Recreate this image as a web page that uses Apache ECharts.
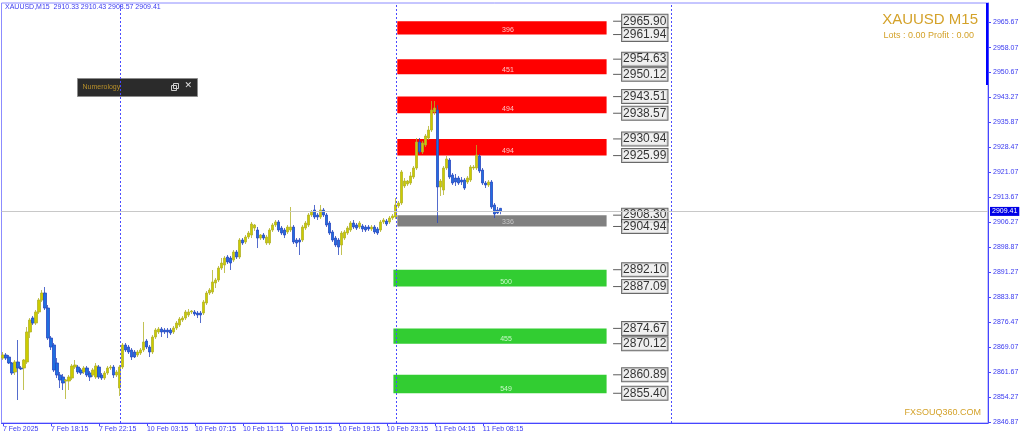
<!DOCTYPE html>
<html><head><meta charset="utf-8">
<script src="https://cdn.jsdelivr.net/npm/echarts@6/dist/echarts.min.js"></script>
<style>html,body{margin:0;padding:0;background:#fff;}#c{width:1024px;height:439px;}</style>
</head><body><div id="c"></div>
<script>
// ---------- data ----------
const symbolName = 'XAUUSD,M15';
const chartTitle = 'XAUUSD M15';
const accountLine = 'Lots : 0.00 Profit : 0.00';
const brandText = 'FXSOUQ360.COM';
const panelTitle = 'Numerology';
const totalSlots = 329; // bars + chart shift space
const xTickLabels = ['7 Feb 2025','7 Feb 18:15','7 Feb 22:15','10 Feb 03:15','10 Feb 07:15','10 Feb 11:15','10 Feb 15:15','10 Feb 19:15','10 Feb 23:15','11 Feb 04:15','11 Feb 08:15'];
const barsPerTick = 16;
const yTickValues = [2965.67,2958.07,2950.67,2943.27,2935.87,2928.47,2921.07,2913.67,2906.27,2898.87,2891.27,2883.87,2876.47,2869.07,2861.67,2854.27,2846.87];
const yMin = 2846.57, yMax = 2971.31;
const daySeparatorBars = [39, 131, 223];
// [open, high, low, close]
const candles = [
[2865.87,2867.66,2865.28,2866.77],[2866.77,2867.36,2865.28,2865.87],[2866.17,2866.77,2864.09,2864.39],[2864.39,2864.69,2860.83,2861.42],
[2861.72,2865.28,2860.83,2864.69],[2864.69,2871.22,2853.40,2862.90],[2862.90,2863.50,2862.31,2862.61],[2862.90,2865.58,2856.37,2865.28],
[2864.69,2875.08,2864.09,2873.60],[2873.60,2877.75,2871.81,2877.16],[2877.75,2878.35,2875.68,2876.27],[2876.27,2880.13,2875.68,2879.54],
[2879.54,2883.69,2878.94,2883.10],[2883.10,2886.07,2882.51,2885.18],[2885.18,2886.96,2880.13,2880.72],[2880.72,2881.62,2871.22,2871.81],
[2871.81,2872.41,2868.25,2869.14],[2869.74,2870.33,2861.72,2862.31],[2864.39,2865.87,2859.93,2860.83],[2860.83,2861.72,2856.96,2859.34],
[2860.23,2861.12,2856.37,2858.45],[2859.04,2859.64,2853.70,2859.34],[2859.04,2860.83,2856.37,2860.23],[2859.93,2864.09,2859.34,2863.50],
[2863.20,2865.28,2862.61,2863.80],[2863.20,2863.80,2861.12,2861.72],[2862.31,2862.90,2860.83,2861.42],[2861.72,2863.50,2861.12,2862.90],
[2862.90,2863.50,2860.23,2860.83],[2861.42,2862.01,2859.04,2860.23],[2860.83,2862.90,2860.23,2862.31],[2860.23,2864.39,2859.64,2863.50],
[2863.20,2863.80,2859.64,2860.23],[2860.83,2861.42,2859.34,2859.93],[2859.93,2862.01,2859.34,2861.42],[2861.42,2863.50,2860.83,2862.90],
[2862.90,2863.80,2862.31,2863.20],[2863.20,2863.80,2859.93,2860.83],[2860.83,2862.31,2860.23,2861.72],[2856.96,2863.80,2854.59,2863.20],
[2863.20,2870.33,2862.61,2869.74],[2869.74,2870.33,2867.66,2868.25],[2869.14,2869.74,2867.06,2867.66],[2868.25,2868.84,2865.28,2866.17],
[2867.66,2868.25,2865.87,2866.17],[2866.77,2868.25,2866.17,2867.66],[2867.36,2868.84,2866.77,2868.25],[2868.25,2876.57,2867.66,2870.63],
[2870.92,2871.52,2868.55,2869.14],[2869.14,2869.74,2866.17,2867.66],[2867.66,2872.71,2867.06,2872.11],[2872.11,2874.78,2871.52,2874.19],
[2873.60,2875.08,2873.00,2874.49],[2874.49,2875.08,2872.11,2873.60],[2874.19,2874.78,2873.00,2873.60],[2874.19,2874.78,2871.81,2873.60],
[2874.19,2874.78,2872.71,2873.30],[2873.60,2875.38,2873.00,2874.78],[2874.78,2876.86,2874.19,2876.27],[2875.68,2878.05,2875.08,2877.46],
[2877.16,2878.35,2876.57,2877.75],[2877.75,2880.13,2877.16,2879.54],[2878.65,2880.43,2878.05,2879.54],[2879.54,2880.13,2878.94,2879.83],
[2879.54,2880.13,2878.35,2878.94],[2879.24,2879.83,2877.75,2878.65],[2879.24,2879.83,2876.27,2878.65],[2879.24,2883.10,2878.65,2882.51],
[2882.21,2885.77,2881.62,2885.18],[2885.18,2886.66,2884.59,2886.07],[2885.48,2892.01,2884.88,2888.45],[2888.15,2889.64,2886.66,2889.04],
[2889.04,2893.20,2888.45,2892.60],[2892.60,2895.57,2892.01,2894.09],[2893.50,2896.17,2891.12,2895.57],[2895.87,2896.47,2893.79,2894.39],
[2895.57,2896.17,2892.01,2894.09],[2894.98,2897.95,2894.39,2897.36],[2897.36,2897.95,2895.28,2895.87],[2895.87,2901.51,2895.28,2900.92],
[2900.92,2901.51,2899.44,2900.03],[2900.33,2902.41,2899.73,2901.81],[2901.81,2903.59,2901.22,2903.00],[2902.41,2906.27,2901.51,2905.67],
[2904.48,2905.67,2903.59,2905.38],[2903.89,2904.78,2898.54,2901.51],[2901.51,2902.70,2900.92,2902.41],[2902.41,2903.00,2900.92,2901.51],
[2900.03,2902.41,2899.44,2901.81],[2900.03,2904.48,2899.44,2903.89],[2903.89,2905.97,2903.30,2905.38],[2905.38,2906.86,2904.78,2906.27],
[2906.27,2906.86,2903.30,2903.89],[2904.48,2905.08,2902.41,2903.00],[2903.89,2904.48,2901.51,2902.41],[2903.30,2905.38,2902.70,2904.78],
[2903.89,2910.72,2903.30,2904.78],[2904.78,2905.38,2899.73,2900.33],[2900.92,2901.51,2898.84,2900.03],[2900.92,2901.51,2896.47,2900.33],
[2900.92,2905.38,2900.33,2904.78],[2904.48,2906.56,2903.89,2905.97],[2905.38,2908.94,2904.78,2908.34],[2908.34,2909.83,2907.75,2909.24],
[2909.83,2911.32,2907.16,2907.75],[2908.34,2908.94,2906.86,2907.75],[2907.75,2911.32,2907.16,2909.83],[2909.83,2910.42,2907.75,2908.34],
[2908.34,2908.94,2904.78,2905.38],[2905.97,2906.56,2902.41,2903.00],[2903.30,2903.89,2900.33,2900.92],[2901.51,2902.11,2898.84,2899.44],
[2900.92,2901.51,2896.47,2898.84],[2899.44,2903.59,2896.47,2903.00],[2901.51,2903.89,2900.92,2903.30],[2903.00,2905.08,2902.41,2904.48],
[2903.89,2906.56,2903.30,2905.97],[2905.97,2906.86,2904.19,2904.78],[2905.38,2905.97,2903.89,2904.48],[2904.78,2906.56,2904.19,2905.97],
[2905.08,2905.67,2903.30,2904.19],[2904.78,2905.38,2903.30,2903.89],[2904.78,2905.38,2903.59,2904.19],[2904.19,2905.38,2903.59,2904.78],
[2904.78,2905.38,2902.70,2903.30],[2904.19,2904.78,2902.41,2903.00],[2903.89,2906.86,2903.30,2906.27],[2906.27,2907.45,2905.67,2906.86],
[2906.56,2907.16,2905.08,2905.67],[2906.27,2908.05,2905.67,2907.45],[2907.45,2908.64,2906.86,2908.05],[2907.75,2913.39,2907.16,2911.32],
[2911.02,2912.50,2910.42,2911.91],[2911.91,2921.71,2911.32,2921.12],[2916.96,2919.33,2916.36,2918.44],[2917.55,2918.74,2916.96,2918.44],
[2917.85,2921.12,2917.26,2919.93],[2919.63,2922.90,2919.04,2922.30],[2922.30,2931.21,2921.71,2930.03],[2930.03,2931.21,2926.46,2927.06],
[2927.06,2930.32,2926.46,2929.73],[2929.14,2932.40,2928.54,2931.81],[2931.21,2934.78,2930.62,2933.59],[2933.59,2942.20,2933.00,2939.53],
[2938.94,2942.20,2938.05,2940.12],[2939.53,2941.02,2905.97,2916.66],[2916.66,2919.04,2913.99,2918.44],[2915.77,2922.90,2914.29,2922.30],
[2922.30,2925.87,2921.71,2924.98],[2924.68,2925.27,2919.04,2919.63],[2920.23,2920.82,2917.26,2917.85],[2919.33,2920.52,2916.96,2918.15],
[2919.33,2919.93,2917.26,2917.85],[2918.74,2919.63,2917.26,2918.15],[2918.74,2919.33,2915.77,2916.36],[2918.15,2919.93,2917.55,2919.33],
[2918.74,2923.19,2918.15,2922.60],[2922.30,2923.19,2921.71,2922.60],[2922.30,2929.14,2921.71,2926.17],[2925.87,2926.46,2920.82,2921.41],
[2921.71,2922.30,2917.26,2917.85],[2917.85,2918.44,2916.36,2917.26],[2917.26,2918.74,2916.66,2918.15],[2918.15,2918.74,2910.13,2910.72],
[2911.32,2911.91,2907.45,2908.64],[2909.83,2910.72,2908.64,2908.94],[2910.33,2910.43,2908.57,2909.41]
];
// numerology zones
const zoneHigh  = [2965.90, 2954.63, 2943.51, 2930.94, 2908.30, 2892.10, 2874.67, 2860.89];
const zoneLow   = [2961.94, 2950.12, 2938.57, 2925.99, 2904.94, 2887.09, 2870.12, 2855.40];
const zoneCount = ['396', '451', '494', '494', '336', '500', '455', '549'];
const zoneKind  = ['sell','sell','sell','sell','pivot','buy','buy','buy'];
const zoneFromBar = [131.5, 131.5, 131.5, 131.5, 131.5, 130.2, 130.2, 130.2];
const zoneToBar   = [201.3, 201.3, 201.3, 201.3, 201.3, 201.3, 201.3, 201.3];
const priceLabelBar = 204.8;

// ---------- styles ----------
const zoneColors = {sell:'#ff0000', pivot:'#808080', buy:'#32cd32'};
const zoneTextColors = {sell:'rgba(255,220,220,0.9)', pivot:'#c8c8c8', buy:'rgba(220,255,220,0.9)'};
const axisBlue = '#4646ff';
const textBlue = '#3a3af0';
const gold = '#d4a22a';

const last = candles[candles.length - 1];
const lastClose = last[3];
const cats = Array.from({length: totalSlots}, (_, i) => String(i));

const zoneAreas = zoneHigh.map((hi, k) => [
  {xAxis: zoneFromBar[k], yAxis: hi, itemStyle: {color: zoneColors[zoneKind[k]]},
   label: {show: true, formatter: zoneCount[k], position: 'insideBottom', distance: 1, offset: [6, 0],
           color: zoneTextColors[zoneKind[k]], fontSize: 7, fontFamily: 'Liberation Sans'}},
  {xAxis: zoneToBar[k], yAxis: zoneLow[k]}
]);
const priceLabels = [];
zoneHigh.forEach((hi, k) => { priceLabels.push([priceLabelBar, hi]); priceLabels.push([priceLabelBar, zoneLow[k]]); });

const chart = echarts.init(document.getElementById('c'), null, {renderer: 'canvas'});
const tickShown = (idx) => idx % barsPerTick === 0 && idx / barsPerTick < xTickLabels.length;

chart.setOption({
  animation: false,
  backgroundColor: '#ffffff',
  grid: {left: 1, top: 3, width: 987, height: 420, containLabel: false, show: true,
         borderColor: '#8c8cff', borderWidth: 1, backgroundColor: 'transparent'},
  xAxis: [
    {type: 'category', data: cats, boundaryGap: true,
     axisLine: {show: true, onZero: false, lineStyle: {color: axisBlue, width: 1}},
     axisTick: {show: true, interval: tickShown, alignWithLabel: true, length: 3, lineStyle: {color: axisBlue}},
     axisLabel: {interval: tickShown, formatter: (v, i) => xTickLabels[Number(v) / barsPerTick],
                 align: 'left', fontSize: 7, color: textBlue, margin: 3, fontFamily: 'Liberation Sans'},
     splitLine: {show: false}},
    {type: 'value', min: -0.5, max: totalSlots - 0.5, show: false, axisLine: {onZero: false}}
  ],
  yAxis: [
    {type: 'value', position: 'right', min: yMin, max: yMax, scale: true,
     axisLine: {show: true, onZero: false, lineStyle: {color: axisBlue}},
     axisTick: {show: true, customValues: yTickValues, length: 3, lineStyle: {color: axisBlue}},
     axisLabel: {customValues: yTickValues, formatter: v => v.toFixed(2), fontSize: 7, color: textBlue,
                 margin: 5, fontFamily: 'Liberation Sans'},
     splitLine: {show: false}}
  ],
  series: [
    {type: 'scatter', name: 'levels', xAxisIndex: 1, yAxisIndex: 0, z: 2,
     data: priceLabels, symbol: 'rect', symbolSize: [8, 1], itemStyle: {color: '#333'},
     label: {show: true, position: 'right', distance: 1, formatter: p => p.value[1].toFixed(2),
             fontSize: 12, fontFamily: 'Liberation Sans', color: '#000', backgroundColor: '#ececec',
             borderColor: '#444', borderWidth: 1, padding: [0, 1, 0, 1], lineHeight: 13},
     markArea: {silent: true, data: zoneAreas},
     markLine: {silent: true, symbol: 'none', animation: false,
       data: daySeparatorBars.map(b => ({xAxis: b, lineStyle: {color: '#4a4aff', type: [2, 2], width: 1}, label: {show: false}}))
         .concat([{yAxis: lastClose, lineStyle: {color: '#c8c8c8', type: 'solid', width: 1},
                   label: {show: true, position: 'end', distance: 2, formatter: lastClose.toFixed(2),
                           backgroundColor: '#0000e6', color: '#fff', fontSize: 7, padding: [1, 2, 1, 2],
                           fontFamily: 'Liberation Sans'}}])}
    },
    {type: 'candlestick', xAxisIndex: 0, yAxisIndex: 0, z: 3, barWidth: 2.6,
     data: candles.map(c => [c[0], c[3], c[2], c[1]]),
     itemStyle: {color: '#cccc00', color0: '#1f6fe0', borderColor: '#b2b228', borderColor0: '#2846c0', borderWidth: 0.8}}
  ],
  graphic: [
    {type: 'text', left: 5, top: 4, style: {text: symbolName + '  ' + last.map(v => v.toFixed(2)).join(' '),
      fill: textBlue, fontSize: 7, fontFamily: 'Liberation Sans'}},
    {type: 'text', right: 46, top: 12, style: {text: chartTitle, fill: gold, fontSize: 15, fontFamily: 'Liberation Sans'}},
    {type: 'text', right: 50, top: 31, style: {text: accountLine, fill: gold, fontSize: 9, fontFamily: 'Liberation Sans'}},
    {type: 'text', right: 43, top: 408, style: {text: brandText, fill: gold, fontSize: 9, fontFamily: 'Liberation Sans'}},
    {type: 'rect', left: 986, top: 3, shape: {width: 2.5, height: 82}, style: {fill: '#0000ff'}},
    {type: 'group', left: 77, top: 78, children: [
      {type: 'rect', shape: {x: 0, y: 0, width: 120, height: 18}, style: {fill: '#2b2b2b', stroke: '#8c8c8c', lineWidth: 1}},
      {type: 'text', x: 5, y: 5, style: {text: panelTitle, fill: '#b8902a', fontSize: 7, fontFamily: 'Liberation Sans'}},
      {type: 'rect', shape: {x: 94, y: 7, width: 5, height: 5}, style: {fill: 'none', stroke: '#cfcfcf', lineWidth: 1}},
      {type: 'rect', shape: {x: 96, y: 5, width: 5, height: 5}, style: {fill: 'none', stroke: '#cfcfcf', lineWidth: 1}},
      {type: 'text', x: 107, y: 3, style: {text: '✕', fill: '#e0e0e0', fontSize: 9, fontFamily: 'DejaVu Sans'}}
    ]}
  ]
});
</script></body></html>
